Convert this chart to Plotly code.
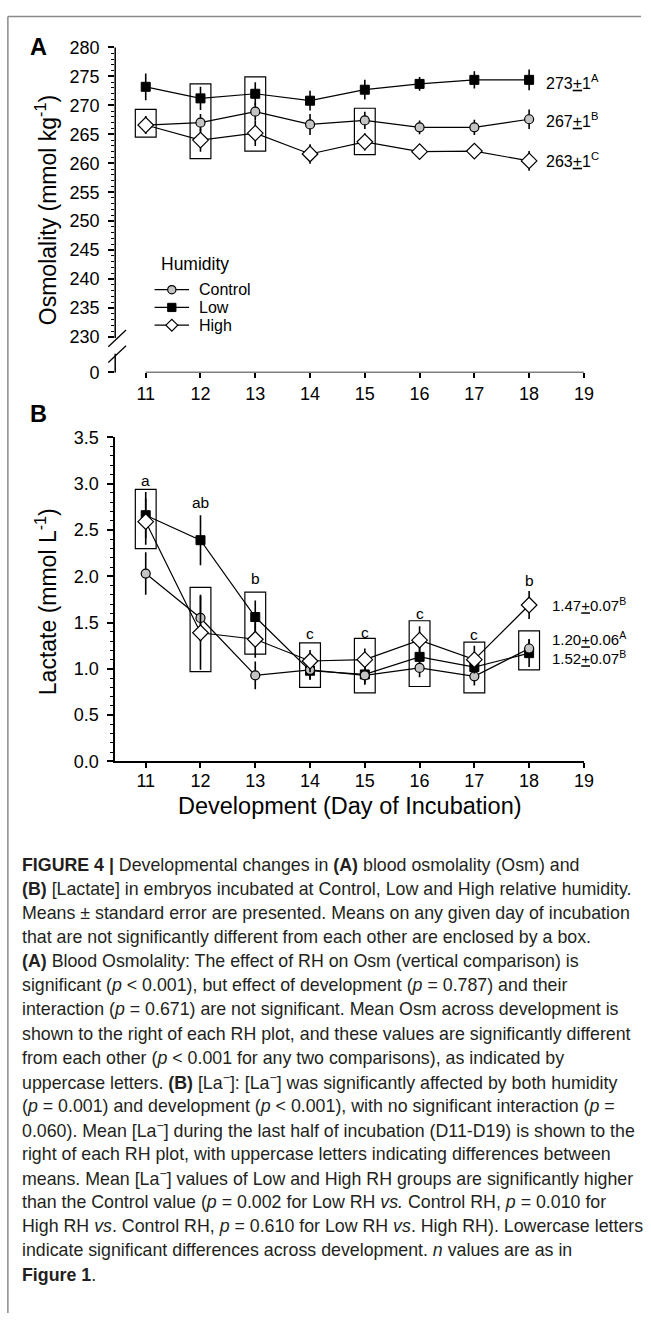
import plotly.graph_objects as go

W, H = 651, 1323

# ---------------- data ----------------
days = [11, 12, 13, 14, 15, 16, 17, 18]
tick_days = [11, 12, 13, 14, 15, 16, 17, 18, 19]
groups = ["Control", "Low", "High"]

# Panel A: Osmolality (mmol/kg)
osm_control = [266.6, 267.0, 268.9, 266.7, 267.4, 266.2, 266.2, 267.6]
osm_low = [273.2, 271.2, 272.0, 270.8, 272.7, 273.7, 274.4, 274.4]
osm_high = [266.6, 264.0, 265.2, 261.6, 263.7, 262.0, 262.1, 260.4]
osm_control_se = [1.5, 1.5, 1.5, 1.8, 1.5, 1.2, 1.3, 1.7]
osm_low_se = [2.3, 2.0, 2.0, 1.7, 1.7, 1.2, 1.5, 1.8]
osm_high_se = [1.5, 2.0, 2.2, 1.7, 1.5, 1.2, 1.2, 1.7]
osm_box_days = [11, 12, 13, 15]
osm_box_lo = [264.5, 260.8, 262.1, 261.5]
osm_box_hi = [269.3, 273.7, 274.9, 269.5]
osm_mean_labels = ["273<u>+</u>1<sup>A</sup>", "267<u>+</u>1<sup>B</sup>", "263<u>+</u>1<sup>C</sup>"]
osm_yticks = [230, 235, 240, 245, 250, 255, 260, 265, 270, 275, 280]

# Panel B: Lactate (mmol/L)
lac_control = [2.03, 1.55, 0.93, 0.99, 0.93, 1.01, 0.92, 1.22]
lac_low = [2.66, 2.39, 1.56, 0.98, 0.94, 1.13, 1.02, 1.17]
lac_high = [2.59, 1.39, 1.32, 1.085, 1.10, 1.31, 1.10, 1.69]
lac_control_se = [0.23, 0.25, 0.15, 0.10, 0.10, 0.10, 0.10, 0.10]
lac_low_se = [0.25, 0.27, 0.18, 0.10, 0.10, 0.12, 0.10, 0.15]
lac_high_se = [0.25, 0.40, 0.20, 0.12, 0.12, 0.15, 0.15, 0.15]
lac_box_days = [11, 12, 13, 14, 15, 16, 17, 18]
lac_box_lo = [2.30, 0.97, 1.16, 0.80, 0.74, 0.81, 0.74, 0.99]
lac_box_hi = [2.94, 1.88, 1.83, 1.28, 1.33, 1.52, 1.29, 1.41]
lac_letters = ["a", "ab", "b", "c", "c", "c", "c", "b"]
lac_letter_y = [3.04, 2.80, 1.98, 1.38, 1.39, 1.60, 1.37, 1.96]
lac_mean_labels = ["1.47<u>+</u>0.07<sup>B</sup>", "1.20<u>+</u>0.06<sup>A</sup>", "1.52<u>+</u>0.07<sup>B</sup>"]

caption_lines = [
    "<b>FIGURE 4 |</b> Developmental changes in <b>(A)</b> blood osmolality (Osm) and",
    "<b>(B)</b> [Lactate] in embryos incubated at Control, Low and High relative humidity.",
    "Means ± standard error are presented. Means on any given day of incubation",
    "that are not significantly different from each other are enclosed by a box.",
    "<b>(A)</b> Blood Osmolality: The effect of RH on Osm (vertical comparison) is",
    "significant (<i>p</i> &lt; 0.001), but effect of development (<i>p</i> = 0.787) and their",
    "interaction (<i>p</i> = 0.671) are not significant. Mean Osm across development is",
    "shown to the right of each RH plot, and these values are significantly different",
    "from each other (<i>p</i> &lt; 0.001 for any two comparisons), as indicated by",
    "uppercase letters. <b>(B)</b> [La<sup>−</sup>]: [La<sup>−</sup>] was significantly affected by both humidity",
    "(<i>p</i> = 0.001) and development (<i>p</i> &lt; 0.001), with no significant interaction (<i>p</i> =",
    "0.060). Mean [La<sup>−</sup>] during the last half of incubation (D11-D19) is shown to the",
    "right of each RH plot, with uppercase letters indicating differences between",
    "means. Mean [La<sup>−</sup>] values of Low and High RH groups are significantly higher",
    "than the Control value (<i>p</i> = 0.002 for Low RH <i>vs.</i> Control RH, <i>p</i> = 0.010 for",
    "High RH <i>vs</i>. Control RH, <i>p</i> = 0.610 for Low RH <i>vs</i>. High RH). Lowercase letters",
    "indicate significant differences across development. <i>n</i> values are as in",
    "<b>Figure 1</b>.",
]

# ---------------- layout helpers ----------------
FONT = "Arial, Liberation Sans, sans-serif"
CAP_FONT = "Liberation Sans, Arial, sans-serif"


def px(x):
    return x / W


def py(y):
    return 1 - y / H


X_LEFT_PX, X_RIGHT_PX = 117, 593
X_RANGE = [11 - (148 - 117) / 55.625, 19]
A_TOP, A_BOT = 38, 368
B_TOP, B_BOT = 434, 763
OSM_ZERO = 230 - (368 - 332) / 5.88

styles = {
    "Control": dict(symbol="circle", size=9, color="#c4c4c4", lw=1.2),
    "Low": dict(symbol="square", size=9, color="black", lw=1.0),
    "High": dict(symbol="diamond", size=12, color="white", lw=1.2),
}

fig = go.Figure()


def add_series(name, y, se, xa, ya):
    s = styles[name]
    fig.add_trace(go.Scatter(
        x=days, y=y, mode="lines+markers", name=name,
        xaxis=xa, yaxis=ya, showlegend=False,
        line=dict(color="black", width=1.2),
        marker=dict(symbol=s["symbol"], size=s["size"], color=s["color"],
                    line=dict(color="black", width=s["lw"])),
        error_y=dict(type="data", array=se, visible=True, color="black",
                     thickness=1.6, width=0),
        cliponaxis=False,
    ))


add_series("Low", osm_low, osm_low_se, "x", "y")
add_series("Control", osm_control, osm_control_se, "x", "y")
add_series("High", osm_high, osm_high_se, "x", "y")
add_series("Low", lac_low, lac_low_se, "x2", "y2")
add_series("Control", lac_control, lac_control_se, "x2", "y2")
add_series("High", lac_high, lac_high_se, "x2", "y2")

shapes = []
annotations = []
BOX_HALF = 0.19

for d, lo, hi in zip(osm_box_days, osm_box_lo, osm_box_hi):
    shapes.append(dict(type="rect", xref="x", yref="y", x0=d - BOX_HALF, x1=d + BOX_HALF,
                       y0=lo, y1=hi, line=dict(color="black", width=1.2)))
for d, lo, hi in zip(lac_box_days, lac_box_lo, lac_box_hi):
    shapes.append(dict(type="rect", xref="x2", yref="y2", x0=d - BOX_HALF, x1=d + BOX_HALF,
                       y0=lo, y1=hi, line=dict(color="black", width=1.2)))


def pline(x0, y0, x1, y1, color="black", width=1.5):
    shapes.append(dict(type="line", xref="paper", yref="paper", x0=px(x0), x1=px(x1),
                       y0=py(y0), y1=py(y1), line=dict(color=color, width=width)))


# Panel A axes drawn as lines (detached x axis, broken y axis)
shapes.append(dict(type="line", xref="x", yref="y", x0=11, x1=19, y0=OSM_ZERO, y1=OSM_ZERO,
                   line=dict(color="black", width=1.5)))
pline(117, A_TOP, 117, 333)
pline(117, 349, 117, A_BOT)
pline(110, 342, 128, 325, width=1.3)
pline(110, 358, 128, 341, width=1.3)

# outer frame (top and left)
pline(8, 6.5, W, 6.5, color="#8a8a8a")
shapes.append(dict(type="line", xref="paper", yref="paper", x0=px(8), x1=px(8),
                   y0=py(6.5), y1=0, line=dict(color="#8a8a8a", width=1.5)))

# ---- legend (manual, to match compact spacing) ----
LEG_Y = {"Control": 284, "Low": 302, "High": 320}
for g in groups:
    yy = LEG_Y[g]
    pline(157, yy, 192, yy, width=1.2)
    cx = 174.5
    if g == "Control":
        r = 4.2
        shapes.append(dict(type="circle", xref="paper", yref="paper",
                           x0=px(cx - r), x1=px(cx + r), y0=py(yy + r), y1=py(yy - r),
                           fillcolor="#c4c4c4", line=dict(color="black", width=1.2)))
    elif g == "Low":
        r = 4.2
        shapes.append(dict(type="rect", xref="paper", yref="paper",
                           x0=px(cx - r), x1=px(cx + r), y0=py(yy + r), y1=py(yy - r),
                           fillcolor="black", line=dict(color="black", width=1)))
    else:
        r = 6
        path = "M {},{} L {},{} L {},{} L {},{} Z".format(
            px(cx - r), py(yy), px(cx), py(yy - r), px(cx + r), py(yy), px(cx), py(yy + r))
        shapes.append(dict(type="path", xref="paper", yref="paper", path=path,
                           fillcolor="white", line=dict(color="black", width=1.2)))
    annotations.append(dict(xref="paper", yref="paper", x=px(200), y=py(yy), text=g, showarrow=False,
                            xanchor="left", yanchor="middle", font=dict(size=16, color="black", family=FONT)))
annotations.append(dict(xref="paper", yref="paper", x=px(161), y=py(258), text="Humidity", showarrow=False,
                        xanchor="left", yanchor="middle", font=dict(size=17.5, color="black", family=FONT)))

# mean labels
for lab, yv in zip(osm_mean_labels, [274.05, 267.4, 260.6]):
    annotations.append(dict(xref="x", yref="y", x=18.28, y=yv, text=lab, showarrow=False,
                            xanchor="left", yanchor="middle", font=dict(size=16, color="black", family=FONT)))
for lab, yv in zip(lac_mean_labels, [1.70, 1.33, 1.12]):
    annotations.append(dict(xref="x2", yref="y2", x=18.39, y=yv, text=lab, showarrow=False,
                            xanchor="left", yanchor="middle", font=dict(size=15, color="black", family=FONT)))
for d, lt, yv in zip(days, lac_letters, lac_letter_y):
    annotations.append(dict(xref="x2", yref="y2", x=d, y=yv, text=lt, showarrow=False,
                            xanchor="center", yanchor="middle", font=dict(size=15.5, color="black", family=FONT)))


def pann(x, y, text, size, angle=0):
    annotations.append(dict(xref="paper", yref="paper", x=px(x), y=py(y), text=text,
                            showarrow=False, textangle=angle, xanchor="center", yanchor="middle",
                            font=dict(size=size, color="black", family=FONT)))


# panel letters and axis titles
pann(39, 38, "<b>A</b>", 23.5)
pann(39, 410, "<b>B</b>", 23.5)
pann(47, 203, "Osmolality (mmol kg<sup>-1</sup>)", 23, angle=-90)
pann(47, 601, "Lactate (mmol L<sup>-1</sup>)", 23, angle=-90)
pann(355, 808, "Development (Day of Incubation)", 23.5)

# caption
for i, line in enumerate(caption_lines):
    annotations.append(dict(xref="paper", yref="paper", x=px(20), y=py(868 + 24.47 * i), text=line,
                            showarrow=False, xanchor="left", yanchor="middle",
                            font=dict(size=17.8, color="#231f20", family=CAP_FONT)))

axis_common = dict(showgrid=False, zeroline=False, ticks="outside", tickcolor="black",
                   tickwidth=1.5, tickfont=dict(size=18, color="black", family=FONT))

osm_minor = [v for v in range(231, 280) if v % 5 != 0]

fig.update_layout(
    width=W, height=H, margin=dict(l=0, r=0, t=0, b=0),
    paper_bgcolor="white", plot_bgcolor="white",
    font=dict(family=FONT, color="black"),
    showlegend=False,
    xaxis=dict(domain=[px(X_LEFT_PX), px(X_RIGHT_PX)], range=X_RANGE, tickmode="array",
               tickvals=tick_days, ticklen=5, showline=False, anchor="y", **axis_common),
    yaxis=dict(domain=[py(A_BOT), py(A_TOP)], range=[OSM_ZERO, 280], tickmode="array",
               tickvals=[OSM_ZERO] + osm_yticks, ticktext=["0"] + [str(v) for v in osm_yticks],
               ticklen=6, ticklabelstandoff=5, showline=False, anchor="x",
               minor=dict(tickmode="array", tickvals=osm_minor, ticks="outside", ticklen=3,
                          tickcolor="black", tickwidth=1),
               **axis_common),
    xaxis2=dict(domain=[px(X_LEFT_PX), px(X_RIGHT_PX)], range=X_RANGE, tickmode="array",
                tickvals=tick_days, ticklen=5, ticklabelstandoff=-3, showline=True, linecolor="black",
                linewidth=1.5, anchor="y2", **axis_common),
    yaxis2=dict(domain=[py(B_BOT), py(B_TOP)], range=[0, 3.5], tickmode="linear", tick0=0, dtick=0.5,
                tickformat=".1f", ticklen=6, ticklabelstandoff=5, showline=True, linecolor="black",
                linewidth=1.5, anchor="x2",
                minor=dict(dtick=0.1, tick0=0, ticks="outside", ticklen=3, tickcolor="black", tickwidth=1),
                **axis_common),
    shapes=shapes, annotations=annotations,
)

fig.write_html("out.html", config={"displayModeBar": False},
               post_script="document.body.style.margin='0px';document.body.style.overflow='hidden';")
